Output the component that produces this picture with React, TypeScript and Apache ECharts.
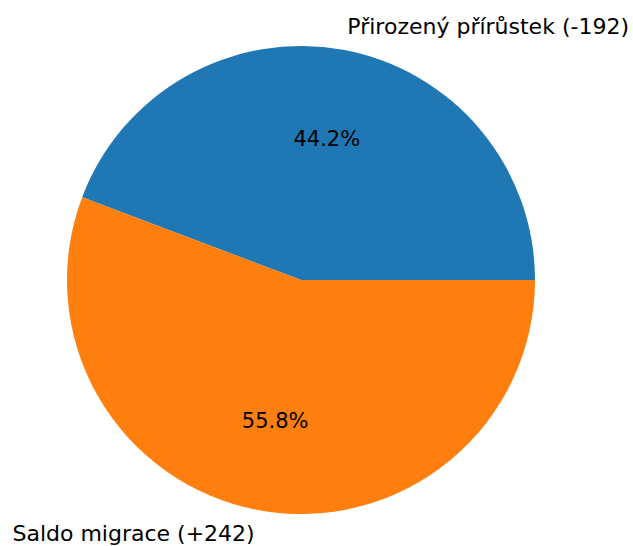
import React, { useEffect, useRef } from "react";
import * as echarts from "echarts";

const categories = ["Přirozený přírůstek (-192)", "Saldo migrace (+242)"];
const values = [192, 242];
const colors = ["#1f77b4", "#ff7f0e"];

export default function App() {
  const ref = useRef<HTMLDivElement>(null);
  useEffect(() => {
    document.body.style.margin = "0";
    const chart = echarts.init(ref.current!, null, { renderer: "svg" });
    const R = 234;
    const center = [301, 280];
    const data = categories.map((name, i) => ({ name, value: values[i], itemStyle: { color: colors[i] } }));
    const total = values.reduce((a, b) => a + b, 0);
    chart.setOption({
      animation: false,
      backgroundColor: "#ffffff",
      series: [
        {
          type: "pie",
          center,
          radius: [0, R],
          startAngle: 0,
          clockwise: false,
          avoidLabelOverlap: false,
          data,
          emphasis: { disabled: true },
          label: {
            show: true,
            position: "outside",
            formatter: "{b}",
            fontFamily: "DejaVu Sans",
            fontSize: 22,
            color: "#000000",
            distanceToLabelLine: 0,
          },
          labelLine: { show: false, length: R * 0.1, length2: 0 },
        },
        {
          type: "pie",
          center,
          radius: [R * 0.2, R],
          startAngle: 0,
          clockwise: false,
          silent: true,
          avoidLabelOverlap: false,
          data: categories.map((name, i) => ({ name, value: values[i], itemStyle: { color: "rgba(0,0,0,0)" } })),
          label: {
            show: true,
            position: "inside",
            formatter: (p: any) => ((p.value / total) * 100).toFixed(1) + "%",
            fontFamily: "DejaVu Sans",
            fontSize: 21,
            color: "#000000",
          },
          labelLine: { show: false },
        },
      ],
    });
    return () => chart.dispose();
  }, []);
  return <div ref={ref} style={{ position: "absolute", left: 0, top: 0, width: 633, height: 546 }} />;
}
